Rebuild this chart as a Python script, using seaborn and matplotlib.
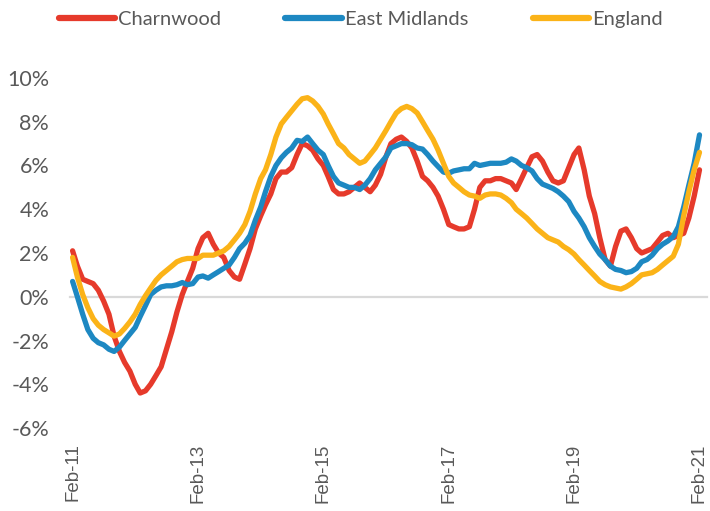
import pandas as pd
import seaborn as sns
import matplotlib
matplotlib.use("Agg")
import matplotlib.pyplot as plt
import matplotlib.dates as mdates
from matplotlib.ticker import FuncFormatter

# monthly house price growth, Feb 2011 - Feb 2021 (%)
months = pd.date_range("2011-02-01", periods=121, freq="MS")

charnwood = [
    2.1, 1.4, 0.8, 0.7, 0.6, 0.3, -0.2, -0.8, -1.8, -2.5, -3.0, -3.4,
    -4.0, -4.4, -4.3, -4.0, -3.6, -3.2, -2.4, -1.6, -0.7, 0.1, 0.7, 1.3,
    2.2, 2.7, 2.9, 2.4, 2.0, 1.8, 1.2, 0.9, 0.8, 1.5, 2.2, 3.1,
    3.7, 4.2, 4.7, 5.4, 5.7, 5.7, 5.9, 6.5, 7.0, 6.9, 6.7, 6.3,
    6.0, 5.5, 4.9, 4.7, 4.7, 4.8, 5.0, 5.2, 5.0, 4.8, 5.1, 5.6,
    6.4, 7.0, 7.2, 7.3, 7.1, 6.8, 6.2, 5.5, 5.3, 5.0, 4.6, 4.0,
    3.3, 3.2, 3.1, 3.1, 3.2, 4.0, 5.0, 5.3, 5.3, 5.4, 5.4, 5.3,
    5.2, 4.9, 5.4, 5.9, 6.4, 6.5, 6.2, 5.7, 5.3, 5.2, 5.3, 5.9,
    6.5, 6.8, 5.8, 4.6, 3.8, 2.7, 1.7, 1.4, 2.3, 3.0, 3.1, 2.7,
    2.2, 2.0, 2.1, 2.2, 2.5, 2.8, 2.9, 2.7, 2.8, 2.9, 3.6, 4.6,
    5.8,
]

east_midlands = [
    0.7, 0.0, -0.8, -1.5, -1.9, -2.1, -2.2, -2.4, -2.5, -2.3, -2.0, -1.7,
    -1.4, -0.9, -0.4, 0.1, 0.3, 0.45, 0.5, 0.5, 0.55, 0.65, 0.55, 0.6,
    0.9, 0.95, 0.85, 1.0, 1.15, 1.3, 1.45, 1.8, 2.2, 2.45, 2.8, 3.5,
    4.1, 4.8, 5.5, 6.0, 6.35, 6.6, 6.8, 7.15, 7.1, 7.3, 7.0, 6.7,
    6.5, 6.0, 5.5, 5.2, 5.1, 5.0, 5.0, 4.9, 5.1, 5.4, 5.8, 6.1,
    6.4, 6.8, 6.9, 7.0, 7.0, 6.95, 6.8, 6.75, 6.5, 6.2, 5.95, 5.7,
    5.65, 5.75, 5.8, 5.85, 5.85, 6.1, 6.0, 6.05, 6.1, 6.1, 6.1, 6.15,
    6.3, 6.2, 6.0, 5.9, 5.75, 5.4, 5.15, 5.05, 4.95, 4.8, 4.6, 4.35,
    3.9, 3.6, 3.2, 2.7, 2.3, 1.95, 1.7, 1.4, 1.25, 1.2, 1.1, 1.15,
    1.3, 1.6, 1.7, 1.9, 2.2, 2.4, 2.55, 2.75, 3.2, 4.1, 5.1, 6.1,
    7.4,
]

england = [
    1.8, 0.9, 0.1, -0.5, -1.0, -1.3, -1.5, -1.65, -1.8, -1.7, -1.45, -1.15,
    -0.8, -0.35, 0.05, 0.4, 0.75, 1.0, 1.2, 1.4, 1.6, 1.7, 1.75, 1.75,
    1.75, 1.9, 1.9, 1.9, 2.0, 2.1, 2.3, 2.6, 2.9, 3.3, 3.9, 4.7,
    5.4, 5.8, 6.5, 7.3, 7.9, 8.2, 8.5, 8.8, 9.05, 9.1, 8.95, 8.7,
    8.35, 7.9, 7.45, 7.0, 6.8, 6.5, 6.3, 6.1, 6.2, 6.5, 6.8, 7.2,
    7.6, 8.0, 8.4, 8.6, 8.7, 8.6, 8.4, 8.0, 7.6, 7.2, 6.7, 6.1,
    5.5, 5.2, 5.0, 4.8, 4.65, 4.6, 4.5, 4.65, 4.7, 4.7, 4.65, 4.5,
    4.3, 4.0, 3.8, 3.6, 3.35, 3.1, 2.9, 2.7, 2.6, 2.5, 2.3, 2.15,
    1.95, 1.7, 1.45, 1.2, 0.95, 0.7, 0.55, 0.45, 0.4, 0.35, 0.45, 0.6,
    0.8, 1.0, 1.05, 1.1, 1.25, 1.45, 1.65, 1.85, 2.4, 3.7, 4.8, 5.8,
    6.6,
]

areas = ["Charnwood", "East Midlands", "England"]
colours = ["#E63A2B", "#1D88C2", "#FBB318"]
yticks = [-6, -4, -2, 0, 2, 4, 6, 8, 10]
xticks = pd.to_datetime(["2011-02-01", "2013-02-01", "2015-02-01",
                         "2017-02-01", "2019-02-01", "2021-02-01"])

df = pd.DataFrame({"month": months, "Charnwood": charnwood,
                   "East Midlands": east_midlands, "England": england})
df = df.melt(id_vars="month", var_name="area", value_name="growth")

sns.set_style("white")
grey = "#595959"

fig = plt.figure(figsize=(7.1, 5.11), dpi=100)
ax = fig.add_axes([0.0986, 0.1624, 0.897, 0.685])

sns.lineplot(data=df, x="month", y="growth", hue="area", hue_order=areas,
             palette=colours, linewidth=3.8, ax=ax,
             solid_joinstyle="round", solid_capstyle="round", zorder=3)

ax.set_ylim(-6, 10)
ax.set_xlim(pd.Timestamp("2011-01-17"), pd.Timestamp("2021-03-16"))
ax.set_yticks(yticks)
ax.yaxis.set_major_formatter(FuncFormatter(lambda v, p: f"{v:.0f}%"))
ax.set_xticks(xticks)
ax.xaxis.set_major_formatter(mdates.DateFormatter("%b-%y"))
ax.set_xlabel("")
ax.set_ylabel("")

for s in ["top", "right", "left"]:
    ax.spines[s].set_visible(False)
ax.spines["bottom"].set_position(("data", 0))
ax.spines["bottom"].set_color("#D9D9D9")
ax.spines["bottom"].set_linewidth(1.6)
ax.spines["bottom"].set_zorder(1)

ax.tick_params(axis="x", direction="out", length=4.5, width=1.6,
               color="#D9D9D9", pad=101, labelrotation=90,
               labelsize=13.5, labelcolor=grey)
ax.tick_params(axis="y", length=0, pad=15, labelsize=15.5, labelcolor=grey)
for lbl in ax.get_xticklabels():
    lbl.set_family("Liberation Sans")
for lbl in ax.get_yticklabels():
    lbl.set_family("Lato")

ax.get_legend().remove()
handles, labels = ax.get_legend_handles_labels()
leg = fig.legend(handles, labels, loc="center", bbox_to_anchor=(0.508, 0.961),
                 ncol=3, frameon=False, handlelength=2.8, handletextpad=0.15,
                 columnspacing=3.2, prop={"family": "Lato", "size": 14.5})
for t in leg.get_texts():
    t.set_color(grey)
for h in leg.get_lines():
    h.set_linewidth(4.5)
    h.set_solid_capstyle("round")

fig.savefig("out.png", dpi=100)
